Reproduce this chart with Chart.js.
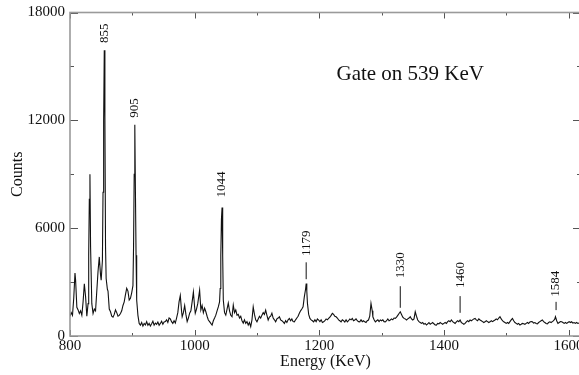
<!DOCTYPE html>
<html>
<head>
<meta charset="utf-8">
<script src="https://cdn.jsdelivr.net/npm/chart.js@4.4.0/dist/chart.umd.min.js"></script>
<style>
  html, body { margin: 0; padding: 0; background: #fff; overflow: hidden; }
  #wrap { width: 592px; height: 375px; position: relative; }
</style>
</head>
<body>
<div id="wrap"><canvas id="gateChart"></canvas></div>
<script>
// gamma spectrum (energy in keV, counts)
var energyKeV = [
  800, 802, 804, 806, 808, 809, 811, 813, 815, 817, 819, 821, 823, 825, 827, 829, 830, 831, 832, 833,
  835, 837, 839, 841, 843, 845, 847, 849, 850, 852, 853, 854, 855, 856, 857, 858, 860, 861, 863, 865,
  867, 869, 871, 873, 875, 877, 879, 881, 883, 885, 887, 889, 891, 893, 895, 897, 899, 901, 902, 903,
  904, 905, 906, 907, 909, 911, 913, 915, 917, 919, 921, 923, 925, 927, 929, 931, 933, 935, 937, 939,
  941, 943, 945, 947, 949, 951, 953, 955, 957, 959, 961, 963, 965, 967, 969, 971, 973, 975, 977, 979,
  980, 982, 984, 986, 988, 990, 992, 994, 996, 998, 1000, 1001, 1003, 1005, 1007, 1008, 1010, 1012, 1014, 1016,
  1018, 1020, 1022, 1024, 1026, 1028, 1030, 1032, 1034, 1036, 1038, 1040, 1041, 1042, 1043, 1044, 1045, 1046, 1048, 1050,
  1052, 1054, 1056, 1058, 1060, 1062, 1064, 1066, 1068, 1070, 1072, 1074, 1076, 1078, 1080, 1082, 1084, 1086, 1088, 1090,
  1092, 1094, 1096, 1098, 1100, 1102, 1104, 1106, 1108, 1110, 1112, 1114, 1116, 1118, 1120, 1122, 1124, 1126, 1128, 1130,
  1132, 1134, 1136, 1138, 1140, 1142, 1144, 1146, 1148, 1150, 1152, 1154, 1156, 1158, 1160, 1162, 1164, 1166, 1168, 1170,
  1172, 1174, 1176, 1178, 1179, 1180, 1181, 1183, 1185, 1187, 1189, 1191, 1193, 1195, 1197, 1199, 1201, 1203, 1205, 1207,
  1209, 1211, 1213, 1215, 1217, 1219, 1221, 1223, 1225, 1227, 1229, 1231, 1233, 1235, 1237, 1239, 1241, 1243, 1245, 1247,
  1249, 1251, 1253, 1255, 1257, 1259, 1261, 1263, 1265, 1267, 1269, 1271, 1273, 1275, 1277, 1279, 1281, 1283, 1285, 1286,
  1288, 1290, 1292, 1294, 1296, 1298, 1300, 1302, 1304, 1306, 1308, 1310, 1312, 1314, 1316, 1318, 1320, 1322, 1324, 1326,
  1328, 1330, 1332, 1334, 1336, 1338, 1340, 1342, 1344, 1346, 1348, 1350, 1352, 1354, 1356, 1358, 1360, 1362, 1364, 1366,
  1368, 1370, 1372, 1374, 1376, 1378, 1380, 1382, 1384, 1386, 1388, 1390, 1392, 1394, 1396, 1398, 1400, 1402, 1404, 1406,
  1408, 1410, 1412, 1414, 1416, 1418, 1420, 1422, 1424, 1426, 1428, 1430, 1432, 1434, 1436, 1438, 1440, 1442, 1444, 1446,
  1448, 1450, 1452, 1454, 1456, 1458, 1460, 1462, 1464, 1466, 1468, 1470, 1472, 1474, 1476, 1478, 1480, 1482, 1484, 1486,
  1488, 1490, 1492, 1494, 1496, 1498, 1500, 1502, 1504, 1506, 1508, 1510, 1512, 1514, 1516, 1518, 1520, 1522, 1524, 1526,
  1528, 1530, 1532, 1534, 1536, 1538, 1540, 1542, 1544, 1546, 1548, 1550, 1552, 1554, 1556, 1558, 1560, 1562, 1564, 1566,
  1568, 1570, 1572, 1574, 1576, 1578, 1579, 1581, 1583, 1585, 1587, 1589, 1591, 1593, 1595, 1597, 1599, 1601, 1603, 1605,
  1607, 1609, 1611, 1613, 1615, 1617
];
var counts = [
  1100, 1300, 1150, 2100, 3500, 3100, 1600, 1450, 1250, 1400, 1150, 1900, 2900, 2200, 1100, 1800, 4500, 7600, 9000, 5000,
  1800, 1250, 1500, 1400, 2500, 3600, 4400, 3400, 3100, 4200, 8000, 12000, 15900, 12200, 5000, 3200, 2600, 2500, 1500, 1350,
  1100, 1050, 1200, 1450, 1300, 1100, 1150, 1250, 1400, 1700, 1900, 2300, 2650, 2500, 2000, 2100, 2400, 2800, 5000, 9000,
  11750, 8000, 4500, 2000, 1150, 700, 600, 750, 550, 700, 620, 800, 600, 700, 550, 680, 820, 600, 720, 650,
  780, 600, 700, 820, 650, 780, 800, 900, 750, 1000, 950, 800, 700, 850, 720, 1000, 1300, 1900, 2250, 1400,
  1070, 1300, 1700, 1200, 800, 1000, 1270, 1400, 1900, 2450, 1600, 1270, 1500, 1800, 2300, 2550, 1450, 1700, 1300, 1550,
  1350, 1100, 890, 800, 700, 610, 850, 1000, 1160, 1400, 1620, 1900, 2640, 4500, 6500, 7150, 4500, 2000, 1300, 1160,
  1500, 1830, 1400, 1150, 1070, 1720, 1300, 1450, 1160, 1200, 1000, 1100, 850, 720, 900, 700, 800, 610, 750, 520,
  900, 1620, 1200, 900, 790, 950, 1100, 1000, 1160, 1300, 1200, 1440, 1150, 890, 1050, 1100, 1270, 1000, 900, 790,
  950, 1000, 1070, 900, 850, 780, 700, 850, 750, 900, 980, 850, 950, 800, 790, 900, 1000, 1100, 1260, 1400,
  1500, 1620, 2180, 2600, 2920, 2500, 1830, 1200, 980, 900, 850, 790, 900, 800, 950, 890, 800, 900, 750, 790,
  850, 950, 900, 980, 1050, 1150, 1260, 1200, 1100, 1070, 1000, 900, 850, 790, 900, 850, 780, 900, 790, 850,
  950, 900, 980, 850, 890, 950, 850, 800, 790, 900, 800, 850, 790, 750, 850, 890, 1100, 1810, 1400, 1070,
  900, 790, 850, 900, 800, 890, 850, 900, 800, 790, 850, 950, 850, 890, 950, 900, 1000, 980, 1050, 1150,
  1250, 1350, 1200, 1050, 980, 950, 890, 950, 1000, 1070, 950, 890, 950, 1350, 1100, 890, 800, 750, 700, 750,
  650, 700, 610, 680, 750, 650, 700, 750, 680, 620, 610, 700, 680, 750, 700, 650, 700, 750, 700, 800,
  850, 790, 890, 800, 750, 700, 780, 850, 800, 890, 750, 700, 650, 700, 780, 850, 800, 890, 850, 900,
  950, 980, 900, 850, 950, 890, 850, 800, 750, 790, 850, 800, 750, 790, 850, 800, 850, 890, 950, 900,
  1000, 1070, 950, 850, 790, 750, 700, 750, 700, 800, 900, 980, 850, 750, 700, 650, 700, 610, 650, 700,
  680, 650, 700, 750, 700, 780, 800, 790, 720, 750, 700, 680, 750, 800, 850, 890, 800, 750, 700, 680,
  750, 790, 750, 800, 850, 950, 1070, 850, 700, 750, 800, 790, 750, 700, 750, 700, 750, 800, 750, 790,
  720, 750, 700, 750, 700, 720
];

// peak annotations: text, position (keV), counts at text start, marker line from/to
var peakNames = ['855', '905', '1044', '1179', '1330', '1460', '1584'];
var peakKeV = [856, 904, 1044, 1179, 1330, 1426, 1580];
var peakTextAt = [16300, 12150, 7700, 4450, 3220, 2670, 2190];
var markerFrom = [null, null, null, 3160, 1570, 1290, 1440];
var markerTo = [null, null, null, 4100, 2770, 2220, 1900];

var xTicks = [800, 1000, 1200, 1400, 1600];
var yTicks = [0, 6000, 12000, 18000];

var spectrum = energyKeV.map(function (e, i) { return { x: e, y: counts[i] }; });

var markers = [];
peakKeV.forEach(function (e, i) {
    if (markerFrom[i] === null) return;
    markers.push({ x: e, y: markerFrom[i] });
    markers.push({ x: e, y: markerTo[i] });
    markers.push({ x: e, y: null });
});

var serif = '"Liberation Serif", "DejaVu Serif", serif';

// box round the plot with inward ticks, peak labels and the gate note
var framePlugin = {
    id: 'frame',
    afterDatasetsDraw: function (chart) {
        var ctx = chart.ctx;
        var a = chart.chartArea;
        var xs = chart.scales.x, ys = chart.scales.y;

        ctx.save();
        ctx.strokeStyle = '#555';
        ctx.lineWidth = 1;
        ctx.beginPath();
        for (var e = 800; e <= 1600; e += 100) {
            var px = Math.round(xs.getPixelForValue(e)) + 0.5;
            var len = (e % 200 === 0) ? 6 : 3;
            ctx.moveTo(px, a.bottom); ctx.lineTo(px, a.bottom - len);
            ctx.moveTo(px, a.top); ctx.lineTo(px, a.top + len);
        }
        for (var c = 0; c <= 18000; c += 3000) {
            var py = Math.round(ys.getPixelForValue(c)) + 0.5;
            var l2 = (c % 6000 === 0) ? 8 : 4;
            ctx.moveTo(a.left, py); ctx.lineTo(a.left + l2, py);
            ctx.moveTo(a.right, py); ctx.lineTo(a.right - l2, py);
        }
        ctx.stroke();

        ctx.strokeStyle = '#9a9a9a';
        ctx.lineWidth = 1.6;
        ctx.strokeRect(a.left, a.top, a.right - a.left, a.bottom - a.top);

        ctx.fillStyle = '#111';
        ctx.font = '13px ' + serif;
        ctx.textAlign = 'left';
        ctx.textBaseline = 'middle';
        peakNames.forEach(function (t, i) {
            ctx.save();
            ctx.translate(xs.getPixelForValue(peakKeV[i]), ys.getPixelForValue(peakTextAt[i]));
            ctx.rotate(-Math.PI / 2);
            ctx.fillText(t, 0, 0);
            ctx.restore();
        });

        ctx.font = '21px ' + serif;
        ctx.textAlign = 'center';
        ctx.fillText('Gate on 539 KeV', xs.getPixelForValue(1346), ys.getPixelForValue(14570));
        ctx.restore();
    }
};

new Chart(document.getElementById('gateChart'), {
    type: 'line',
    data: {
        datasets: [{
            label: 'Gate on 539 KeV',
            data: spectrum,
            borderColor: '#111',
            borderWidth: 1.1,
            pointRadius: 0,
            tension: 0
        }, {
            label: 'markers',
            data: markers,
            borderColor: '#111',
            borderWidth: 1,
            pointRadius: 0,
            spanGaps: false
        }]
    },
    options: {
        responsive: true,
        maintainAspectRatio: false,
        animation: false,
        events: [],
        layout: { padding: { top: 10, right: 11, bottom: 0, left: 0 } },
        plugins: {
            legend: { display: false },
            tooltip: { enabled: false }
        },
        scales: {
            x: {
                type: 'linear',
                min: 800,
                max: 1620,
                grid: { display: false, drawTicks: false },
                border: { display: false },
                afterBuildTicks: function (s) { s.ticks = xTicks.map(function (v) { return { value: v }; }); },
                afterFit: function (s) { s.height = 39; },
                ticks: {
                    padding: 3,
                    maxRotation: 0,
                    autoSkip: false,
                    color: '#111',
                    font: { family: serif, size: 15, lineHeight: 1 },
                    callback: function (v) { return String(v); }
                },
                title: {
                    display: true,
                    text: 'Energy (KeV)',
                    color: '#111',
                    padding: { top: 0, bottom: 5 },
                    font: { family: serif, size: 16, lineHeight: 1 }
                }
            },
            y: {
                min: 0,
                max: 18000,
                grid: { display: false, drawTicks: false },
                border: { display: false },
                afterBuildTicks: function (s) { s.ticks = yTicks.map(function (v) { return { value: v }; }); },
                afterFit: function (s) { s.width = 70; },
                ticks: {
                    padding: 5,
                    color: '#111',
                    font: { family: serif, size: 15, lineHeight: 1 },
                    callback: function (v) { return String(v); }
                },
                title: {
                    display: true,
                    text: 'Counts',
                    color: '#111',
                    padding: { top: 10, bottom: 0 },
                    font: { family: serif, size: 16, lineHeight: 1 }
                }
            }
        }
    },
    plugins: [framePlugin]
});
</script>
</body>
</html>
